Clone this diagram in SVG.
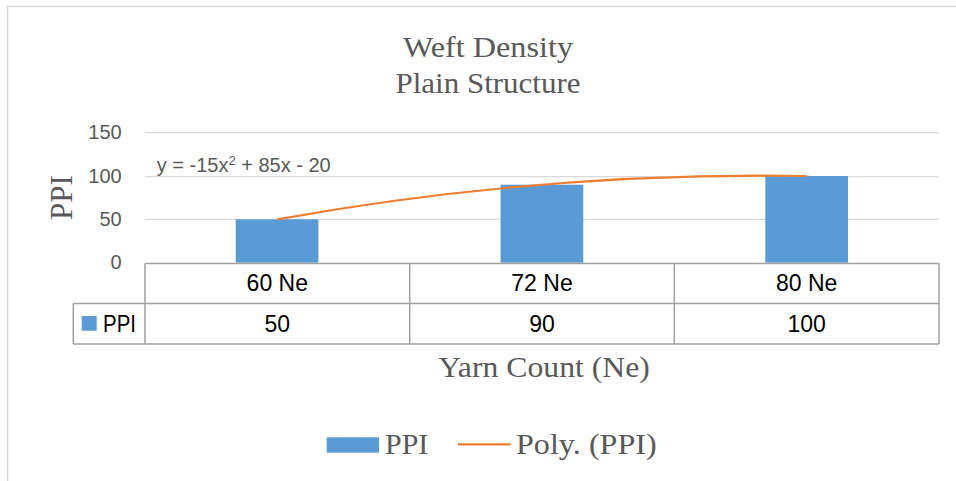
<svg xmlns="http://www.w3.org/2000/svg" width="956" height="481" viewBox="0 0 956 481">
<style>
.serif{font-family:"Liberation Serif","Times New Roman",serif;fill:#595959}
.sans{font-family:"Liberation Sans",Arial,sans-serif}
.ylab{font-size:20px;fill:#595959;text-anchor:end}
.tab{font-size:23px;fill:#000;text-anchor:middle}
.grid{stroke:#d9d9d9;stroke-width:1.2;fill:none}
.tline{stroke:#a0a0a0;stroke-width:1.5;fill:none}
.bar{fill:#5b9bd5}
</style>
<rect width="956" height="481" fill="#fff"/>
<path d="M7.5 490 V6.5 H960" fill="none" stroke="#d9d9d9" stroke-width="1.5"/>
<g id="title">
<text class="serif" x="488" y="56.7" font-size="30" text-anchor="middle" textLength="170" lengthAdjust="spacingAndGlyphs">Weft Density</text>
<text class="serif" x="488" y="93.3" font-size="30" text-anchor="middle" textLength="185" lengthAdjust="spacingAndGlyphs">Plain Structure</text>
</g>
<g id="gridlines">
<line class="grid" x1="145" y1="132.7" x2="939" y2="132.7"/>
<line class="grid" x1="145" y1="176.7" x2="939" y2="176.7"/>
<line class="grid" x1="145" y1="219.3" x2="939" y2="219.3"/>
</g>
<g id="y-axis" class="sans">
<text class="ylab" x="121.7" y="139.4">150</text>
<text class="ylab" x="121.7" y="183.3">100</text>
<text class="ylab" x="121.7" y="226">50</text>
<text class="ylab" x="121.7" y="269.3">0</text>
<text class="serif" transform="translate(71.7 197.5) rotate(-90)" font-size="31" text-anchor="middle">PPI</text>
</g>
<g id="bars">
<rect id="bar-60" class="bar" x="235.7" y="219.3" width="82.7" height="43.4"/>
<rect id="bar-72" class="bar" x="500.6" y="184.7" width="82.7" height="78"/>
<rect id="bar-80" class="bar" x="765.3" y="176" width="82.7" height="86.7"/>
</g>
<g id="connectors">
<path id="trendline" d="M277.3 219.3 Q542 171.7 806.7 176" fill="none" stroke="#ed7d31" stroke-width="2.2"/>
</g>
<text id="equation" class="sans" x="156.7" y="171.7" font-size="20" fill="#595959">y = -15x<tspan dy="-7" font-size="13">2</tspan><tspan dy="7"> + 85x - 20</tspan></text>
<g id="data-table" class="sans">
<path class="tline" d="M145 263.5 H939 M73.3 303.5 H939 M73.3 344 H939 M145 263.5 V344 M409.7 263.5 V344 M674.3 263.5 V344 M939 263.5 V344 M73.3 303.5 V344"/>
<text class="tab" x="277.3" y="291">60 Ne</text>
<text class="tab" x="542" y="291">72 Ne</text>
<text class="tab" x="806.7" y="291">80 Ne</text>
<rect class="bar" x="81.7" y="316" width="15" height="14.7"/>
<text x="103" y="331.5" font-size="23" fill="#000" textLength="33" lengthAdjust="spacingAndGlyphs">PPI</text>
<text class="tab" x="277.3" y="331.7">50</text>
<text class="tab" x="542" y="331.7">90</text>
<text class="tab" x="806.7" y="331.7">100</text>
</g>
<text id="x-axis-title" class="serif" x="544" y="376.7" font-size="30" text-anchor="middle" textLength="211.7" lengthAdjust="spacingAndGlyphs">Yarn Count (Ne)</text>
<g id="legend">
<rect class="bar" x="326.7" y="437.3" width="52.3" height="15.4"/>
<text class="serif" x="385" y="454.3" font-size="30" textLength="43.3" lengthAdjust="spacingAndGlyphs">PPI</text>
<line x1="458" y1="444.3" x2="510.7" y2="444.3" stroke="#ed7d31" stroke-width="2.2"/>
<text class="serif" x="516" y="454.3" font-size="30" textLength="140.7" lengthAdjust="spacingAndGlyphs">Poly. (PPI)</text>
</g>
</svg>
